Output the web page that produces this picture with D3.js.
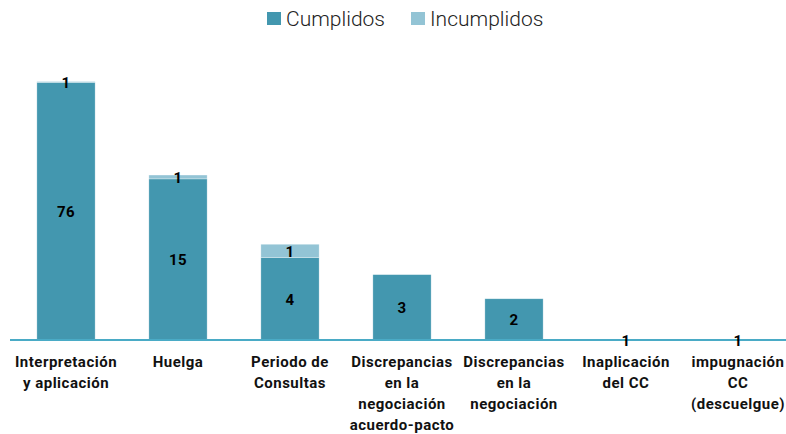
<!DOCTYPE html>
<html>
<head>
<meta charset="utf-8">
<script src="https://cdn.jsdelivr.net/npm/d3@7"></script>
<style>
  body { margin: 0; background: #fff; }
  svg { display: block; font-family: Roboto, "DejaVu Sans", sans-serif; }
</style>
</head>
<body>
<svg class="mysvg"></svg>
<script>
// categories (one entry per line of the tick label)
const categories = [
  ["Interpretación", "y aplicación"],
  ["Huelga"],
  ["Periodo de", "Consultas"],
  ["Discrepancias", "en la", "negociación", "acuerdo-pacto"],
  ["Discrepancias", "en la", "negociación"],
  ["Inaplicación", "del CC"],
  ["impugnación", "CC", "(descuelgue)"],
];
const cumplidos = [76, 15, 4, 3, 2, 1, 1];
const incumplidos = [1, 1, 1, 0, 0, 0, 0];
const seriesNames = ["Cumplidos", "Incumplidos"];
const colors = ["#4397af", "#93c4d5"];

const width = 786, height = 434;
const baseY = 340;

const svg = d3.select(".mysvg").attr("width", width).attr("height", height);

const x = d3.scaleBand()
  .domain(d3.range(categories.length))
  .range([10, 794])
  .paddingInner(0.48)
  .paddingOuter(0.24);

// log scale: value 1 sits on the baseline
const y = d3.scaleLog().domain([1, 100]).range([baseY, baseY - 2 * 137]);

const rows = categories.map((c, i) => ({ i, c: cumplidos[i], n: incumplidos[i] }));

// Cumplidos segments
svg.append("g").selectAll("rect")
  .data(rows)
  .enter()
  .append("rect")
  .attr("x", (d) => x(d.i))
  .attr("width", x.bandwidth())
  .attr("y", (d) => y(d.c))
  .attr("height", (d) => y(1) - y(d.c))
  .attr("fill", colors[0])
  .attr("stroke", "#fff")
  .attr("stroke-opacity", 0.5)
  .attr("stroke-width", 0.6);

// Incumplidos segments stacked on top
svg.append("g").selectAll("rect")
  .data(rows.filter((d) => d.n > 0))
  .enter()
  .append("rect")
  .attr("x", (d) => x(d.i))
  .attr("width", x.bandwidth())
  .attr("y", (d) => y(d.c + d.n))
  .attr("height", (d) => y(d.c) - y(d.c + d.n))
  .attr("fill", colors[1])
  .attr("stroke", "#fff")
  .attr("stroke-opacity", 0.5)
  .attr("stroke-width", 0.6);

// axis line
svg.append("line")
  .attr("x1", 10).attr("x2", width)
  .attr("y1", baseY).attr("y2", baseY)
  .attr("stroke", "#4aabc6")
  .attr("stroke-width", 2);

// value labels
const labelStyle = (sel) => sel
  .attr("text-anchor", "middle")
  .attr("dominant-baseline", "central")
  .style("font-size", "15px")
  .style("font-weight", "bold")
  .style("letter-spacing", "0.3px")
  .attr("fill", "#000");

svg.append("g").selectAll("text")
  .data(rows)
  .enter()
  .append("text")
  .attr("x", (d) => x(d.i) + x.bandwidth() / 2)
  .attr("y", (d) => (y(1) + y(d.c)) / 2 + 1)
  .text((d) => d.c)
  .call(labelStyle);

svg.append("g").selectAll("text")
  .data(rows.filter((d) => d.n > 0))
  .enter()
  .append("text")
  .attr("x", (d) => x(d.i) + x.bandwidth() / 2)
  .attr("y", (d) => (y(d.c) + y(d.c + d.n)) / 2 + 1)
  .text((d) => d.n)
  .call(labelStyle);

// category labels
const ticks = svg.append("g").selectAll("text")
  .data(categories)
  .enter()
  .append("text")
  .attr("text-anchor", "middle")
  .attr("x", (d, i) => x(i) + x.bandwidth() / 2)
  .attr("y", 367)
  .style("font-size", "15px")
  .style("font-weight", "bold")
  .style("letter-spacing", "0.5px")
  .attr("fill", "#111");

ticks.selectAll("tspan")
  .data((d) => d)
  .enter()
  .append("tspan")
  .attr("x", function () { return this.parentNode.getAttribute("x"); })
  .attr("dy", (d, i) => (i === 0 ? 0 : 21))
  .text((d) => d);

// legend
const legendItems = [
  { name: seriesNames[0], color: colors[0], x: 267 },
  { name: seriesNames[1], color: colors[1], x: 411 },
];
const legend = svg.append("g").attr("class", "legend");
legend.selectAll("rect")
  .data(legendItems)
  .enter()
  .append("rect")
  .attr("x", (d) => d.x)
  .attr("y", 12)
  .attr("width", 14)
  .attr("height", 13)
  .attr("fill", (d) => d.color);
legend.selectAll("text")
  .data(legendItems)
  .enter()
  .append("text")
  .attr("x", (d) => d.x + 19)
  .attr("y", 26)
  .text((d) => d.name)
  .style("font-size", "21px")
  .style("font-weight", 300)
  .attr("fill", "#222");
</script>
</body>
</html>
